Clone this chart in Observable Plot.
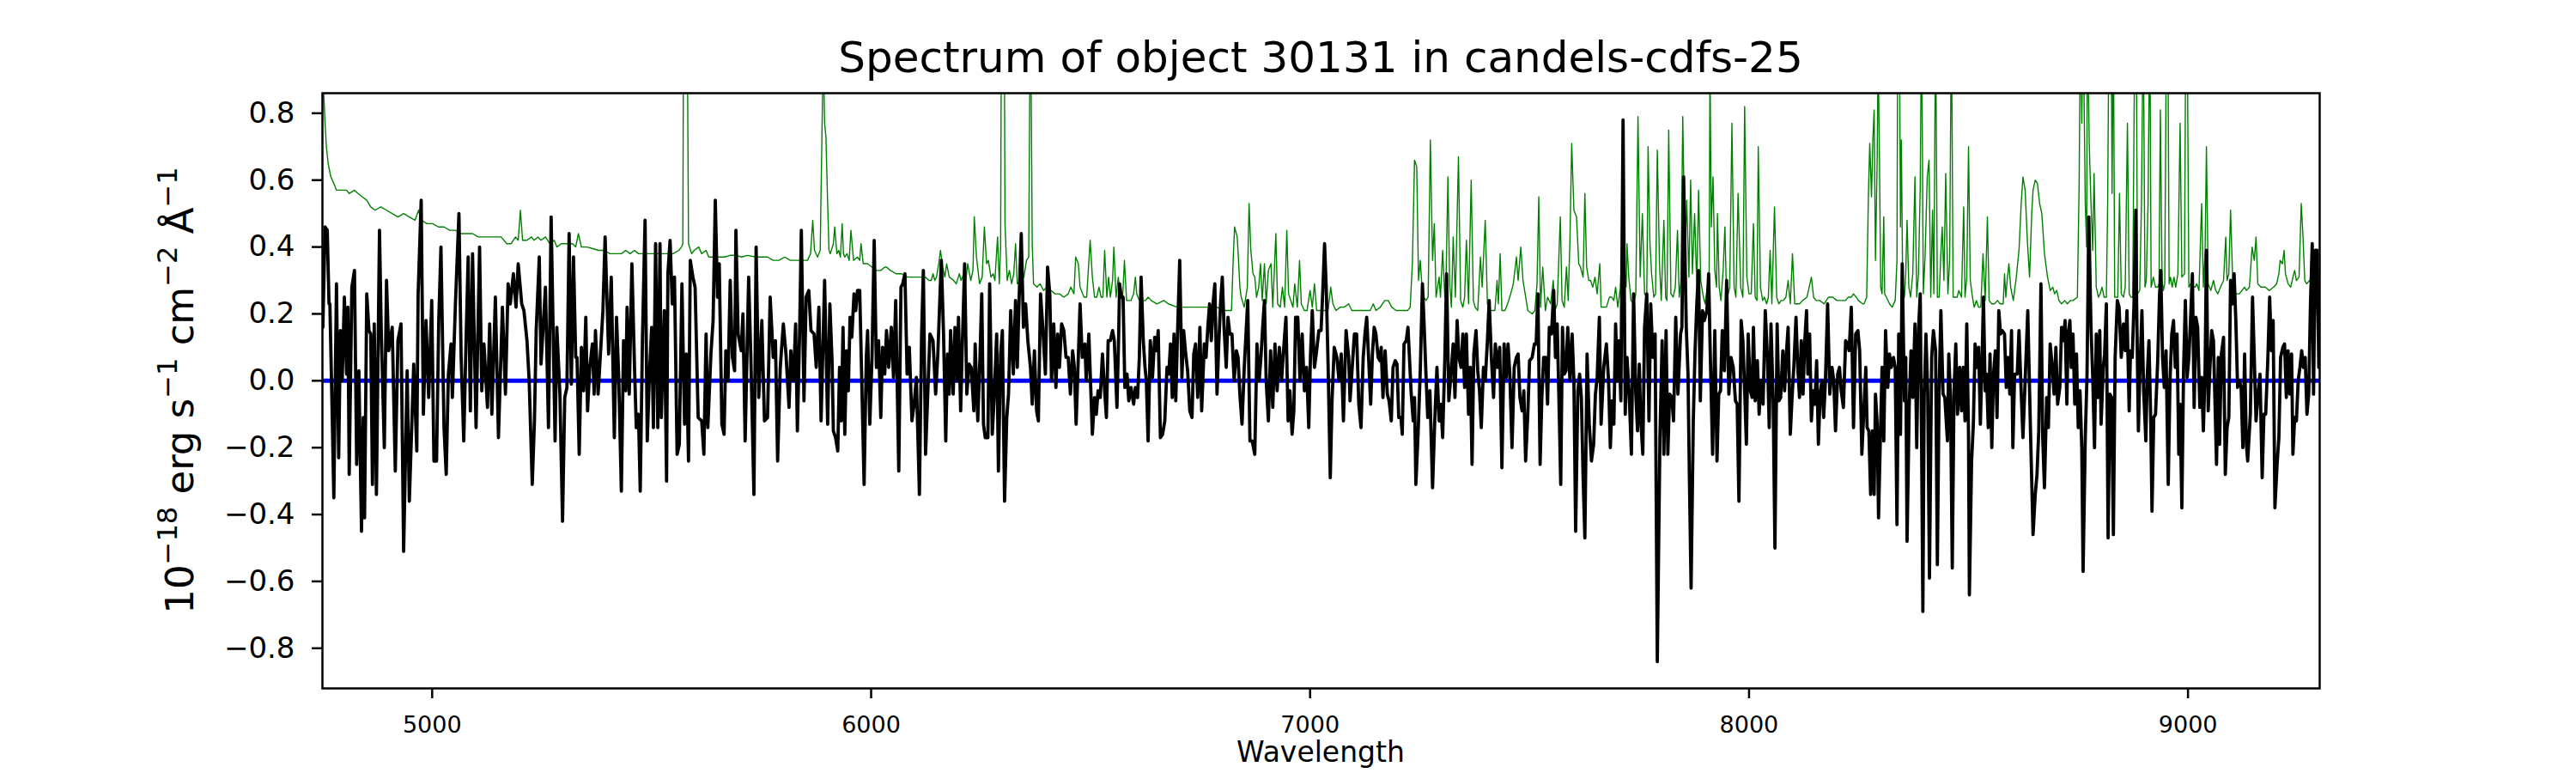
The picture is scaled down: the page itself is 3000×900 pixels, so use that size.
<!DOCTYPE html>
<html>
<head>
<meta charset="utf-8">
<script src="https://cdn.jsdelivr.net/npm/d3@7"></script>
<script src="https://cdn.jsdelivr.net/npm/@observablehq/plot@0.6"></script>
<style>
  html, body { margin: 0; padding: 0; background: #ffffff; }
  #chart { width: 3000px; height: 900px; }
</style>
</head>
<body>
<div id="chart"></div>
<script>
// ---------- DATA ----------
const titleText = "Spectrum of object 30131 in candels-cdfs-25";
const xLabelText = "Wavelength";
const xTicks = [5000, 6000, 7000, 8000, 9000];
const yTicks = [-0.8, -0.6, -0.4, -0.2, 0, 0.2, 0.4, 0.6, 0.8];
const xDomain = [4750, 9300];
const yDomain = [-0.92, 0.86];
const zeroLevel = [0];

// observed flux [wavelength, flux]
const fluxPoints = [
[4751,0.16],[4756,0.46],[4761,0.45],[4765,0.23],[4767,0.23],[4771,-0.02],[4776,-0.35],[4782,0.29],[4787,-0.23],[4791,0.15],[4795,0.00],[4800,0.25],[4805,0.02],[4808,0.22],[4811,-0.28],[4817,0.28],[4823,0.33],[4828,-0.25],[4833,0.03],[4839,-0.45],[4843,-0.11],[4846,-0.41],[4851,0.26],[4856,0.15],[4860,0.14],[4864,-0.31],[4868,0.17],[4873,-0.34],[4880,0.45],[4884,0.15],[4891,-0.20],[4896,0.30],[4901,0.09],[4909,0.16],[4916,-0.27],[4922,0.12],[4929,0.17],[4935,-0.51],[4943,0.03],[4948,-0.36],[4958,0.05],[4965,-0.21],[4968,0.26],[4975,0.54],[4980,-0.10],[4986,0.18],[4992,-0.05],[4999,0.24],[5004,-0.24],[5010,-0.24],[5015,0.18],[5020,0.40],[5027,-0.14],[5032,-0.28],[5037,0.02],[5043,0.11],[5046,-0.05],[5053,0.23],[5061,0.50],[5066,0.07],[5072,-0.18],[5077,0.11],[5082,0.37],[5087,-0.09],[5092,0.38],[5100,-0.14],[5108,0.40],[5113,-0.03],[5118,0.11],[5126,-0.08],[5131,0.17],[5136,-0.10],[5144,0.25],[5151,-0.17],[5160,0.22],[5167,-0.04],[5173,0.29],[5178,0.23],[5185,0.32],[5191,0.22],[5196,0.35],[5204,0.23],[5209,0.21],[5216,0.12],[5221,0.00],[5228,-0.31],[5233,-0.12],[5237,0.15],[5244,0.37],[5248,0.05],[5258,0.28],[5265,-0.14],[5271,0.49],[5280,-0.18],[5284,0.16],[5291,-0.04],[5297,-0.42],[5302,-0.05],[5307,-0.02],[5312,0.44],[5317,-0.01],[5322,0.37],
[5327,0.07],[5330,0.07],[5335,-0.22],[5340,0.10],[5345,-0.03],[5350,0.19],[5354,-0.09],[5359,0.04],[5365,0.11],[5369,-0.04],[5372,0.15],[5378,-0.04],[5382,0.05],[5389,0.21],[5394,0.43],[5399,0.21],[5402,0.08],[5408,0.31],[5415,-0.17],[5420,0.19],[5425,0.01],[5431,-0.33],[5436,0.12],[5441,-0.03],[5444,0.22],[5449,-0.04],[5455,0.35],[5461,0.04],[5465,-0.14],[5470,-0.10],[5474,-0.33],[5479,0.12],[5485,0.48],[5490,-0.18],[5495,0.02],[5500,0.16],[5504,-0.14],[5509,0.41],[5514,-0.14],[5519,0.41],[5522,-0.11],[5529,0.21],[5534,-0.30],[5537,0.32],[5542,0.42],[5547,0.23],[5552,0.31],[5558,-0.22],[5563,-0.19],[5569,0.29],[5575,-0.13],[5579,0.08],[5584,-0.24],[5588,0.36],[5594,0.31],[5599,0.28],[5606,-0.11],[5614,-0.12],[5619,-0.22],[5624,0.14],[5628,-0.14],[5635,0.08],[5640,0.18],[5645,0.54],[5650,0.25],[5654,0.35],[5660,-0.13],[5665,-0.16],[5669,0.09],[5674,0.00],[5679,0.30],[5684,0.07],[5689,0.03],[5692,0.45],[5697,0.14],[5704,0.09],[5708,0.20],[5713,-0.18],[5721,0.31],[5726,0.07],[5733,-0.34],[5738,0.40],[5744,-0.05],[5751,0.18],[5757,-0.12],[5764,-0.11],[5770,0.25],[5777,0.07],[5782,0.12],[5787,-0.24],[5793,0.04],[5800,0.17],[5806,0.08],[5813,-0.08],[5817,0.09],[5823,0.00],[5828,0.17],[5832,-0.15],[5837,0.14],[5841,0.45],[5847,-0.06],[5852,0.25],[5858,0.27],[5863,0.15],[5870,0.14],[5875,0.04],[5881,0.22],[5886,-0.12],[5894,0.30],[5901,-0.13],[5906,0.23],[5911,0.06],
[5914,-0.15],[5919,-0.17],[5924,-0.21],[5928,0.04],[5932,-0.12],[5936,0.16],[5940,-0.16],[5944,0.09],[5948,-0.03],[5952,0.19],[5956,0.13],[5961,0.26],[5965,0.21],[5969,0.27],[5974,0.27],[5979,-0.02],[5984,-0.31],[5989,0.07],[5992,0.15],[5997,-0.13],[6002,0.07],[6007,0.42],[6012,0.04],[6017,0.12],[6022,-0.11],[6026,0.10],[6031,0.02],[6035,0.15],[6040,0.04],[6046,0.16],[6051,0.01],[6056,0.24],[6063,-0.27],[6068,0.28],[6072,0.29],[6077,0.32],[6082,0.02],[6087,0.10],[6093,-0.12],[6098,-0.07],[6103,0.01],[6110,-0.34],[6115,0.14],[6119,0.33],[6124,-0.22],[6129,-0.04],[6134,0.14],[6141,0.12],[6147,-0.04],[6152,0.08],[6157,0.26],[6160,0.36],[6165,0.14],[6170,-0.18],[6174,0.08],[6178,-0.04],[6181,0.15],[6187,-0.04],[6191,0.16],[6196,0.00],[6199,0.19],[6204,-0.09],[6207,0.07],[6213,0.35],[6218,-0.04],[6223,0.05],[6228,0.04],[6234,-0.09],[6237,0.11],[6243,-0.12],[6248,0.07],[6252,0.26],[6256,-0.13],[6260,-0.17],[6266,-0.17],[6270,0.29],[6276,-0.16],[6280,-0.06],[6286,0.14],[6290,-0.27],[6295,0.08],[6299,0.15],[6304,-0.36],[6309,-0.11],[6313,-0.04],[6318,0.21],[6324,0.02],[6329,0.24],[6333,0.04],[6337,0.24],[6342,0.44],[6347,0.16],[6352,0.23],[6357,0.12],[6363,0.04],[6367,-0.07],[6372,0.09],[6377,-0.09],[6381,-0.12],[6386,0.26],[6391,0.16],[6397,0.02],[6402,0.34],[6407,0.26],[6411,0.00],[6416,0.17],[6421,-0.02],[6425,0.14],[6429,0.04],[6434,0.17],[6439,0.15],[6444,0.07],[6449,0.07],[6454,-0.04],[6459,0.09],[6463,0.04],[6467,-0.13],[6472,0.07],[6476,0.23],[6481,0.07],[6487,0.11],[6490,0.00],[6496,0.14],
[6504,-0.16],[6509,-0.05],[6513,-0.10],[6517,-0.03],[6522,-0.05],[6527,0.08],[6532,-0.03],[6536,-0.11],[6540,0.12],[6545,0.12],[6550,0.15],[6554,0.12],[6560,-0.08],[6564,0.14],[6566,0.29],[6570,0.25],[6574,0.25],[6578,-0.02],[6583,0.02],[6587,-0.06],[6592,-0.02],[6598,-0.07],[6602,-0.02],[6607,-0.05],[6611,0.07],[6615,0.31],[6620,0.12],[6624,0.04],[6627,0.00],[6631,-0.18],[6636,0.12],[6641,0.01],[6646,0.13],[6650,0.09],[6654,0.15],[6659,-0.17],[6664,-0.16],[6669,-0.12],[6674,0.04],[6678,0.02],[6682,0.11],[6686,-0.05],[6690,0.14],[6694,-0.06],[6698,0.14],[6703,0.36],[6708,0.01],[6712,0.15],[6716,0.09],[6721,0.03],[6726,-0.09],[6731,-0.11],[6735,0.08],[6739,0.11],[6744,-0.05],[6749,0.16],[6753,-0.09],[6759,0.11],[6763,0.07],[6767,0.16],[6771,0.23],[6775,0.12],[6779,0.23],[6783,0.29],[6788,-0.04],[6792,0.11],[6796,0.23],[6800,0.31],[6804,0.16],[6809,0.04],[6813,0.19],[6817,0.14],[6822,0.14],[6827,0.00],[6832,0.09],[6836,0.07],[6840,-0.04],[6845,-0.13],[6850,0.04],[6854,0.14],[6858,0.24],[6863,-0.18],[6868,-0.18],[6874,-0.22],[6879,0.11],[6884,0.00],[6888,0.07],[6892,0.16],[6896,0.24],[6900,0.00],[6905,-0.12],[6910,0.09],[6915,-0.08],[6920,0.11],[6925,-0.03],[6930,0.10],[6935,0.00],[6939,0.08],[6945,0.19],[6950,-0.12],[6954,-0.03],[6959,-0.16],[6963,-0.09],[6967,0.19],[6972,0.19],[6977,0.00],[6982,0.14],[6987,-0.03],[6992,0.04],[6997,-0.14],[7001,0.08],[7005,0.21],[7010,0.04],[7014,0.08],[7020,0.15],[7025,0.15],[7029,0.27],[7033,0.41],[7037,0.27],[7041,0.05],[7046,-0.29],[7050,-0.06],[7055,0.10],[7061,0.07],[7066,0.00],[7071,0.08],[7076,-0.12],[7082,0.15],
[7088,0.07],[7091,-0.06],[7096,0.04],[7101,0.14],[7106,0.14],[7111,-0.07],[7116,-0.14],[7121,0.07],[7125,0.14],[7129,0.19],[7134,0.05],[7138,-0.07],[7142,0.08],[7146,0.16],[7150,0.14],[7155,0.07],[7159,0.06],[7162,0.10],[7166,-0.05],[7171,0.09],[7176,-0.04],[7180,-0.06],[7185,-0.12],[7189,0.04],[7194,0.06],[7198,0.05],[7202,-0.11],[7207,-0.11],[7210,-0.16],[7214,0.11],[7219,0.12],[7223,0.16],[7226,0.08],[7230,-0.03],[7235,-0.12],[7238,-0.05],[7241,-0.31],[7246,-0.16],[7251,0.03],[7256,0.29],[7260,0.16],[7264,0.02],[7268,-0.11],[7273,-0.03],[7279,-0.32],[7284,-0.12],[7289,0.04],[7294,-0.12],[7298,-0.07],[7302,-0.17],[7307,0.07],[7311,0.32],[7316,-0.06],[7321,0.02],[7326,0.11],[7330,-0.05],[7335,0.18],[7339,0.07],[7344,0.04],[7348,0.14],[7352,-0.02],[7356,0.14],[7361,-0.10],[7365,0.04],[7369,-0.25],[7373,0.08],[7378,0.15],[7382,0.03],[7386,-0.03],[7390,-0.14],[7395,0.04],[7399,0.00],[7404,0.12],[7408,0.24],[7413,0.07],[7418,-0.05],[7422,0.11],[7427,0.04],[7432,0.10],[7437,-0.26],[7442,0.11],[7447,0.01],[7451,0.11],[7455,0.02],[7460,-0.20],[7465,0.04],[7470,0.07],[7474,0.08],[7478,-0.05],[7483,-0.09],[7487,-0.03],[7491,-0.24],[7496,-0.10],[7500,0.06],[7506,0.07],[7511,0.11],[7515,0.11],[7519,0.26],[7524,-0.25],[7528,-0.05],[7532,0.07],[7537,0.07],[7541,-0.07],[7545,0.16],[7550,0.14],[7555,0.27],[7559,0.07],[7563,0.17],[7568,-0.12],[7571,-0.31],[7575,0.16],[7579,0.02],[7583,0.03],[7587,0.16],[7592,0.00],[7597,0.14],[7601,0.00],[7605,-0.45],[7610,-0.03],[7614,0.02],[7618,-0.05],[7622,-0.29],[7626,-0.47],[7631,0.08],[7636,-0.13],[7641,-0.24],[7646,-0.19],[7650,-0.04],[7654,0.01],[7659,0.19],[7663,-0.13],[7669,0.04],
[7675,0.11],[7680,0.00],[7684,-0.20],[7688,-0.06],[7692,-0.13],[7696,0.17],[7700,0.00],[7703,0.12],[7708,-0.06],[7713,0.78],[7718,-0.10],[7722,0.07],[7727,-0.04],[7732,-0.22],[7737,0.26],[7742,-0.04],[7746,-0.15],[7750,0.05],[7753,-0.11],[7758,-0.22],[7762,0.16],[7767,0.26],[7772,-0.12],[7776,0.23],[7781,0.07],[7786,0.14],[7791,-0.84],[7797,-0.17],[7802,0.12],[7806,-0.22],[7811,0.15],[7815,-0.22],[7819,-0.04],[7824,-0.05],[7828,-0.12],[7833,0.19],[7838,-0.04],[7844,0.14],[7847,0.16],[7851,0.61],[7857,0.16],[7861,0.02],[7864,-0.28],[7868,-0.62],[7873,-0.12],[7877,0.09],[7881,0.23],[7885,0.33],[7889,-0.06],[7894,0.21],[7898,0.18],[7904,0.21],[7908,0.32],[7911,0.12],[7917,-0.22],[7922,0.15],[7927,-0.24],[7931,-0.04],[7935,-0.03],[7939,0.15],[7944,0.03],[7949,0.30],[7954,-0.04],[7959,0.07],[7964,0.04],[7969,-0.06],[7973,-0.07],[7977,-0.36],[7982,0.18],[7986,0.12],[7990,-0.03],[7994,-0.19],[7998,0.14],[8003,-0.03],[8007,-0.05],[8010,0.16],[8014,-0.06],[8019,0.06],[8023,-0.10],[8027,0.00],[8032,-0.07],[8037,0.21],[8042,0.07],[8046,-0.14],[8050,0.17],[8055,-0.06],[8059,-0.50],[8064,0.17],[8068,-0.06],[8072,-0.05],[8077,0.09],[8081,-0.03],[8085,0.08],[8089,0.16],[8094,-0.16],[8098,-0.05],[8102,0.04],[8107,0.19],[8111,0.04],[8115,-0.05],[8119,0.12],[8123,-0.04],[8127,0.12],[8131,0.21],[8134,0.02],[8138,0.14],[8142,-0.12],[8146,-0.03],[8150,-0.07],[8154,0.06],[8158,-0.19],[8162,-0.04],[8166,0.00],[8170,-0.11],[8174,0.00],[8179,0.23],[8184,-0.04],[8189,0.04],[8193,0.00],[8197,-0.15],[8202,0.02],[8206,0.04],[8210,-0.03],[8215,-0.08],[8220,0.12],[8224,0.11],[8228,0.09],[8233,0.22],[8238,-0.14],[8243,0.14],[8248,0.15],[8252,0.09],[8257,-0.22],
[8266,0.04],[8269,-0.14],[8273,-0.15],[8277,-0.34],[8281,-0.15],[8285,-0.34],[8288,-0.04],[8292,-0.13],[8295,-0.41],[8299,-0.18],[8303,0.04],[8307,-0.18],[8311,0.15],[8316,-0.02],[8320,0.08],[8324,0.04],[8329,0.07],[8333,0.04],[8337,-0.43],[8341,0.14],[8345,-0.16],[8349,0.35],[8354,-0.06],[8357,0.07],[8360,-0.48],[8365,-0.07],[8369,0.09],[8373,-0.05],[8378,0.17],[8382,-0.20],[8386,0.15],[8390,0.26],[8393,-0.17],[8396,-0.69],[8399,-0.05],[8403,0.14],[8407,-0.03],[8411,-0.59],[8416,0.07],[8420,0.15],[8425,0.09],[8429,-0.55],[8433,-0.03],[8437,0.21],[8442,-0.04],[8446,-0.05],[8452,-0.18],[8455,0.08],[8459,-0.05],[8463,-0.56],[8467,-0.03],[8471,0.11],[8475,-0.10],[8480,0.04],[8484,-0.09],[8488,0.04],[8492,-0.12],[8496,0.17],[8500,-0.16],[8502,-0.64],[8507,-0.24],[8511,-0.13],[8515,0.11],[8520,0.04],[8523,0.10],[8527,-0.13],[8531,0.07],[8534,0.25],[8538,-0.03],[8541,0.02],[8545,-0.14],[8549,0.08],[8553,-0.20],[8557,0.02],[8561,0.09],[8565,-0.11],[8569,0.21],[8573,0.14],[8577,0.15],[8582,0.14],[8586,-0.02],[8590,0.07],[8594,-0.04],[8598,0.15],[8601,-0.20],[8605,0.02],[8611,0.02],[8615,0.15],[8619,0.00],[8624,-0.17],[8629,0.00],[8635,0.21],[8641,-0.14],[8647,-0.46],[8652,-0.34],[8656,-0.28],[8660,-0.15],[8665,0.29],[8669,-0.17],[8673,-0.32],[8678,-0.05],[8682,-0.14],[8686,0.11],[8691,0.04],[8695,-0.04],[8699,0.10],[8703,-0.07],[8708,-0.02],[8712,0.16],[8716,0.12],[8720,0.18],[8724,-0.07],[8727,0.14],[8731,0.18],[8734,0.04],[8738,0.14],[8742,-0.07],[8746,0.08],[8750,-0.14],[8754,-0.03],[8758,-0.20],[8761,-0.57],[8766,-0.17],[8770,0.02],[8774,0.49],[8779,0.16],[8783,0.01],[8787,-0.20],[8791,0.14],[8795,-0.05],[8799,0.15],[8802,-0.13],[8807,0.04],[8810,0.08],[8814,0.23],[8818,-0.47],[8822,-0.04],[8826,-0.05],[8830,-0.46],[8834,0.07],[8839,0.24],[8843,0.22],[8848,0.07],
[8853,0.17],[8857,0.09],[8861,0.21],[8866,-0.09],[8869,0.09],[8873,0.07],[8877,0.23],[8881,0.51],[8883,0.23],[8887,-0.15],[8890,0.01],[8895,0.21],[8899,-0.03],[8904,-0.18],[8907,0.01],[8911,0.12],[8915,-0.11],[8918,-0.39],[8922,-0.11],[8926,-0.10],[8931,0.06],[8935,0.25],[8938,0.33],[8942,0.07],[8946,-0.02],[8950,0.09],[8955,-0.31],[8959,0.00],[8963,0.14],[8967,0.18],[8971,0.04],[8975,0.14],[8979,-0.22],[8982,-0.07],[8986,-0.38],[8990,0.04],[8994,0.24],[8998,0.01],[9002,0.07],[9006,0.19],[9010,0.32],[9014,-0.08],[9018,0.19],[9022,0.16],[9027,-0.08],[9031,0.01],[9035,-0.15],[9039,0.04],[9042,0.39],[9046,-0.09],[9050,0.04],[9054,0.15],[9058,0.12],[9062,-0.09],[9065,-0.25],[9069,0.07],[9072,-0.19],[9076,0.08],[9081,0.13],[9085,-0.28],[9089,-0.14],[9093,-0.11],[9097,0.30],[9101,0.23],[9105,0.32],[9109,0.18],[9113,-0.02],[9117,0.00],[9121,-0.02],[9125,-0.20],[9129,0.08],[9133,-0.19],[9136,-0.24],[9142,-0.10],[9147,0.25],[9151,0.07],[9155,-0.12],[9159,-0.05],[9164,0.02],[9169,-0.29],[9173,-0.10],[9177,-0.10],[9182,0.07],[9186,0.25],[9190,0.09],[9194,0.18],[9198,-0.38],[9203,-0.25],[9207,-0.17],[9211,0.07],[9216,0.10],[9220,0.11],[9224,-0.05],[9228,0.09],[9232,-0.04],[9236,0.08],[9239,-0.22],[9243,-0.11],[9247,-0.12],[9251,0.00],[9255,0.04],[9259,0.09],[9263,0.04],[9267,0.07],[9271,-0.10],[9275,-0.04],[9279,0.23],[9283,0.41],[9286,-0.04],[9290,0.39],[9294,0.39],[9298,0.04]
];

// uncertainty / sky [wavelength, value]
const errorPoints = [
[4751,1.1],[4753,0.86],[4756,0.77],[4759,0.70],[4763,0.65],[4769,0.61],[4776,0.59],[4782,0.57],[4792,0.57],[4805,0.57],[4811,0.56],[4823,0.57],[4831,0.56],[4841,0.55],[4851,0.54],[4860,0.52],[4870,0.51],[4883,0.52],[4896,0.51],[4909,0.50],[4922,0.49],[4935,0.50],[4948,0.49],[4961,0.48],[4969,0.51],[4975,0.48],[4988,0.47],[5001,0.47],[5014,0.46],[5027,0.46],[5040,0.45],[5053,0.45],[5066,0.44],[5079,0.44],[5092,0.44],[5105,0.43],[5118,0.43],[5131,0.43],[5144,0.43],[5157,0.43],[5170,0.41],[5180,0.41],[5190,0.43],[5196,0.42],[5201,0.51],[5206,0.42],[5216,0.42],[5226,0.43],[5232,0.42],[5241,0.43],[5248,0.42],[5258,0.43],[5268,0.41],[5278,0.42],[5284,0.40],[5294,0.41],[5307,0.41],[5320,0.41],
[5327,0.40],[5333,0.44],[5340,0.40],[5353,0.40],[5366,0.395],[5379,0.39],[5392,0.39],[5405,0.38],[5418,0.38],[5431,0.38],[5441,0.39],[5451,0.38],[5461,0.39],[5470,0.38],[5483,0.38],[5496,0.38],[5509,0.38],[5523,0.38],[5536,0.38],[5549,0.38],[5562,0.39],[5568,0.40],[5571,0.41],[5573,1.2],[5578,1.3],[5581,1.1],[5584,0.41],[5591,0.38],[5597,0.39],[5607,0.40],[5614,0.38],[5624,0.39],[5630,0.37],[5640,0.37],[5653,0.37],[5666,0.37],[5679,0.375],[5692,0.375],[5705,0.37],[5718,0.375],[5738,0.37],[5751,0.37],[5764,0.37],[5777,0.36],[5790,0.36],[5803,0.37],[5816,0.36],[5829,0.36],[5842,0.36],[5855,0.36],[5862,0.38],[5867,0.48],[5871,0.39],[5878,0.37],[5884,0.39],[5888,0.74],[5891,1.0],[5894,0.77],[5897,0.73],[5901,0.53],[5904,0.39],[5907,0.38],
[5914,0.41],[5917,0.46],[5922,0.38],[5926,0.39],[5930,0.37],[5934,0.47],[5937,0.38],[5940,0.37],[5945,0.38],[5950,0.36],[5954,0.45],[5960,0.36],[5969,0.37],[5974,0.36],[5977,0.41],[5982,0.35],[5992,0.35],[6002,0.34],[6012,0.33],[6022,0.33],[6031,0.34],[6035,0.34],[6044,0.33],[6057,0.32],[6070,0.32],[6083,0.31],[6096,0.31],[6110,0.31],[6123,0.31],[6132,0.30],[6137,0.30],[6141,0.32],[6145,0.30],[6149,0.31],[6154,0.35],[6158,0.39],[6163,0.34],[6168,0.31],[6172,0.35],[6178,0.31],[6188,0.30],[6194,0.29],[6201,0.32],[6205,0.30],[6211,0.32],[6215,0.29],[6220,0.35],[6227,0.30],[6232,0.33],[6235,0.49],[6240,0.37],[6247,0.29],[6253,0.31],[6258,0.46],[6263,0.35],[6267,0.36],[6273,0.31],[6278,0.32],[6282,0.30],[6288,0.43],[6292,0.29],[6295,0.40],[6297,1.2],[6303,1.2],[6305,0.47],[6310,0.30],[6315,0.33],[6320,0.29],[6325,0.32],[6329,0.41],[6333,0.29],[6341,0.30],[6348,0.31],[6354,0.36],[6359,0.37],[6363,1.2],[6367,0.41],[6370,0.29],[6378,0.28],[6385,0.29],[6393,0.27],[6400,0.28],[6410,0.27],[6419,0.26],[6429,0.26],[6439,0.25],[6449,0.26],[6455,0.28],[6462,0.26],[6466,0.37],[6472,0.35],[6476,0.28],[6485,0.25],[6491,0.25],[6499,0.42],
[6504,0.31],[6509,0.25],[6514,0.25],[6519,0.28],[6524,0.25],[6528,0.25],[6532,0.39],[6537,0.25],[6541,0.31],[6545,0.25],[6550,0.30],[6553,0.40],[6558,0.25],[6563,0.31],[6568,0.25],[6573,0.25],[6577,0.36],[6582,0.24],[6586,0.24],[6592,0.24],[6598,0.26],[6602,0.31],[6605,0.26],[6611,0.24],[6618,0.24],[6625,0.24],[6631,0.25],[6638,0.24],[6651,0.23],[6667,0.24],[6677,0.23],[6697,0.22],[6710,0.22],[6723,0.22],[6736,0.22],[6749,0.22],[6762,0.22],[6775,0.22],[6788,0.22],[6801,0.21],[6814,0.21],[6821,0.21],[6825,0.37],[6828,0.46],[6834,0.43],[6837,0.36],[6840,0.28],[6843,0.25],[6850,0.22],[6857,0.28],[6861,0.53],[6865,0.39],[6870,0.32],[6874,0.31],[6878,0.25],[6883,0.28],[6887,0.35],[6891,0.24],[6896,0.35],[6900,0.23],[6905,0.33],[6911,0.35],[6915,0.22],[6922,0.44],[6926,0.23],[6932,0.22],[6937,0.28],[6942,0.22],[6947,0.45],[6951,0.26],[6956,0.24],[6961,0.22],[6965,0.29],[6971,0.22],[6976,0.36],[6980,0.23],[6987,0.21],[6993,0.21],[7000,0.27],[7005,0.22],[7010,0.29],[7015,0.21],[7023,0.21],[7033,0.21],[7041,0.21],[7047,0.28],[7052,0.23],[7059,0.21],[7069,0.22],[7078,0.22],[7088,0.23],
[7095,0.21],[7101,0.21],[7114,0.21],[7124,0.21],[7131,0.21],[7137,0.21],[7144,0.23],[7150,0.21],[7160,0.22],[7170,0.24],[7178,0.24],[7186,0.22],[7196,0.21],[7206,0.21],[7215,0.21],[7222,0.21],[7228,0.22],[7233,0.35],[7238,0.66],[7243,0.64],[7247,0.30],[7251,0.36],[7255,0.28],[7259,0.25],[7264,0.24],[7269,0.25],[7274,0.72],[7279,0.36],[7283,0.47],[7287,0.25],[7294,0.31],[7297,0.25],[7302,0.39],[7307,0.25],[7310,0.32],[7314,0.61],[7318,0.29],[7322,0.22],[7326,0.43],[7331,0.25],[7338,0.67],[7343,0.24],[7348,0.22],[7352,0.25],[7356,0.42],[7361,0.23],[7367,0.60],[7372,0.24],[7376,0.22],[7382,0.21],[7388,0.37],[7392,0.28],[7399,0.48],[7404,0.23],[7409,0.21],[7421,0.21],[7426,0.30],[7429,0.23],[7433,0.38],[7437,0.21],[7444,0.21],[7450,0.23],[7457,0.26],[7463,0.29],[7470,0.37],[7474,0.30],[7480,0.40],[7485,0.30],[7490,0.26],[7496,0.21],[7506,0.20],[7512,0.21],[7517,0.29],[7521,0.55],[7525,0.22],[7530,0.34],[7536,0.21],[7541,0.25],[7548,0.23],[7554,0.30],[7558,0.21],[7563,0.23],[7570,0.49],[7574,0.24],[7579,0.22],[7584,0.34],[7588,0.24],[7592,0.42],[7596,0.71],[7601,0.51],[7607,0.49],[7612,0.35],[7616,0.34],[7622,0.31],[7626,0.56],[7630,0.34],[7635,0.30],[7639,0.30],[7644,0.28],[7649,0.31],[7654,0.26],[7660,0.35],[7663,0.22],[7669,0.22],[7675,0.22],
[7682,0.25],[7687,0.25],[7692,0.24],[7696,0.28],[7701,0.22],[7707,0.28],[7711,0.41],[7716,0.35],[7720,0.28],[7722,0.41],[7726,0.31],[7731,0.24],[7737,0.23],[7742,0.26],[7747,0.79],[7752,0.31],[7757,0.50],[7762,0.26],[7767,0.25],[7770,0.70],[7774,0.42],[7778,0.32],[7783,0.25],[7787,0.26],[7791,0.69],[7796,0.35],[7800,0.24],[7806,0.48],[7810,0.25],[7813,0.24],[7817,0.75],[7822,0.26],[7827,0.25],[7832,0.28],[7837,0.45],[7841,0.25],[7845,0.30],[7849,0.79],[7854,0.37],[7858,0.54],[7863,0.31],[7867,0.60],[7871,0.32],[7876,0.50],[7881,0.28],[7885,0.57],[7890,0.30],[7896,0.25],[7900,0.23],[7905,0.28],[7909,0.28],[7911,0.95],[7914,0.46],[7918,0.61],[7922,0.33],[7926,0.28],[7928,0.50],[7932,0.28],[7936,0.24],[7941,0.33],[7945,0.46],[7949,0.24],[7956,0.28],[7961,0.77],[7966,0.28],[7970,0.25],[7975,0.56],[7981,0.28],[7986,0.25],[7990,0.82],[7995,0.31],[8000,0.26],[8005,0.26],[8010,0.47],[8014,0.25],[8018,0.24],[8021,0.70],[8026,0.28],[8031,0.24],[8035,0.25],[8040,0.23],[8044,0.25],[8048,0.39],[8052,0.23],[8058,0.52],[8063,0.25],[8068,0.23],[8073,0.24],[8078,0.24],[8084,0.25],[8089,0.30],[8094,0.23],[8099,0.38],[8104,0.23],[8109,0.23],[8115,0.23],[8122,0.24],[8132,0.25],[8137,0.28],[8142,0.31],[8147,0.25],[8153,0.24],[8161,0.24],[8171,0.23],[8181,0.25],[8191,0.25],[8200,0.24],[8210,0.24],[8220,0.24],[8226,0.25],[8233,0.25],[8238,0.26],[8244,0.25],[8249,0.24],[8259,0.23],
[8262,0.23],[8268,0.25],[8272,0.56],[8275,0.71],[8279,0.55],[8282,0.72],[8285,0.81],[8288,0.36],[8292,0.67],[8294,1.0],[8297,0.67],[8300,0.28],[8303,0.26],[8307,0.49],[8309,0.26],[8313,0.25],[8320,0.23],[8326,0.22],[8333,0.24],[8337,0.36],[8339,1.2],[8342,1.2],[8345,0.46],[8347,0.72],[8350,0.29],[8354,0.25],[8357,0.32],[8360,0.48],[8364,0.28],[8368,0.25],[8373,0.32],[8378,0.61],[8382,0.25],[8386,0.32],[8390,0.58],[8393,1.1],[8397,0.26],[8401,0.37],[8406,0.61],[8410,0.66],[8414,0.25],[8418,0.51],[8421,0.26],[8425,1.1],[8429,0.25],[8433,0.25],[8437,0.38],[8440,0.46],[8444,0.30],[8448,0.62],[8453,0.26],[8457,0.36],[8461,1.1],[8465,0.25],[8470,0.25],[8474,0.25],[8478,0.27],[8484,0.25],[8489,0.52],[8492,0.25],[8496,0.31],[8500,0.70],[8504,0.30],[8509,0.25],[8513,0.22],[8518,0.24],[8523,0.22],[8528,0.22],[8533,0.38],[8538,0.24],[8543,0.49],[8547,0.24],[8553,0.23],[8559,0.23],[8566,0.24],[8572,0.23],[8579,0.23],[8582,0.32],[8585,0.25],[8588,0.30],[8592,0.35],[8596,0.28],[8602,0.24],[8608,0.30],[8615,0.39],[8620,0.53],[8624,0.61],[8629,0.57],[8634,0.42],[8639,0.31],[8644,0.50],[8647,0.57],[8652,0.60],[8657,0.59],[8662,0.53],[8667,0.50],[8670,0.44],[8673,0.38],[8680,0.31],[8686,0.27],[8692,0.28],[8696,0.26],[8701,0.27],[8706,0.24],[8712,0.23],[8719,0.24],[8725,0.23],[8732,0.24],[8738,0.24],[8748,0.25],[8752,0.59],[8755,1.1],[8758,0.77],[8761,1.1],[8766,0.53],[8769,0.40],[8771,1.1],[8775,0.71],[8779,0.53],[8783,0.39],[8786,0.62],[8791,0.28],[8796,0.25],[8800,0.26],[8804,0.28],[8809,0.25],[8814,0.25],[8817,0.53],[8820,1.1],[8825,1.1],[8827,0.56],[8830,1.1],
[8833,0.25],[8840,0.25],[8844,0.56],[8848,0.26],[8853,0.25],[8857,0.28],[8862,0.77],[8866,0.26],[8870,0.25],[8874,0.25],[8879,1.1],[8882,1.1],[8885,0.26],[8890,0.27],[8894,0.53],[8898,1.1],[8902,0.28],[8905,0.30],[8909,0.53],[8913,1.1],[8916,0.28],[8921,0.31],[8926,0.28],[8931,0.28],[8934,0.29],[8937,0.81],[8941,0.30],[8944,0.27],[8947,0.29],[8951,1.1],[8954,1.1],[8957,0.29],[8960,0.31],[8964,0.28],[8968,0.31],[8972,0.28],[8977,0.32],[8982,0.77],[8986,0.31],[8992,0.32],[8995,1.1],[8998,1.1],[9002,0.28],[9006,0.29],[9011,0.28],[9016,0.28],[9020,0.29],[9025,0.27],[9031,0.53],[9035,0.28],[9039,0.39],[9042,0.70],[9046,0.29],[9052,0.27],[9058,0.30],[9063,0.27],[9068,0.26],[9074,0.28],[9081,0.30],[9086,0.43],[9089,0.30],[9093,0.32],[9097,0.51],[9102,0.29],[9109,0.26],[9117,0.26],[9123,0.27],[9129,0.28],[9133,0.27],[9140,0.28],[9146,0.40],[9151,0.36],[9155,0.43],[9159,0.29],[9166,0.28],[9176,0.28],[9185,0.27],[9195,0.28],[9202,0.29],[9207,0.32],[9210,0.36],[9215,0.35],[9219,0.39],[9222,0.32],[9228,0.29],[9234,0.28],[9239,0.31],[9243,0.33],[9247,0.30],[9253,0.31],[9258,0.53],[9262,0.43],[9266,0.30],[9270,0.29],[9277,0.30],[9283,0.30],[9300,0.30]
];

// ---------- CHART ----------
const W = 3000, H = 900;
const M = {top: 108, right: 299, bottom: 99, left: 375};
const FONT = "DejaVu Sans";

const chart = Plot.plot({
  width: W,
  height: H,
  marginTop: M.top,
  marginRight: M.right,
  marginBottom: M.bottom,
  marginLeft: M.left,
  style: {fontFamily: FONT, background: "#ffffff", color: "#000000"},
  x: {domain: xDomain},
  y: {domain: yDomain},
  marks: [
    Plot.line(errorPoints, {x: d => d[0], y: d => d[1], stroke: "#008000", strokeWidth: 1.4, clip: true}),
    Plot.ruleY(zeroLevel, {stroke: "#0000ff", strokeWidth: 5, clip: true}),
    Plot.line(fluxPoints, {x: d => d[0], y: d => d[1], stroke: "#000000", strokeWidth: 3.8, strokeLinejoin: "round", clip: true}),
    Plot.axisY({ticks: yTicks, tickSize: 12, tickPadding: 20, tickFormat: d3.format(".1f"), fontSize: 34, strokeWidth: 2.5, label: null}),
    Plot.axisX({ticks: xTicks, tickSize: 12, tickPadding: 20, tickFormat: d => String(d), fontSize: 27, strokeWidth: 2.5, label: null}),
    Plot.frame({stroke: "#000000", strokeWidth: 2.5})
  ]
});

document.getElementById("chart").appendChild(chart);

// ---------- TEXT (title, axis labels) ----------
const svg = d3.select(chart);
const cx = M.left + (W - M.left - M.right) / 2;
const cy = M.top + (H - M.top - M.bottom) / 2;

svg.append("text")
  .attr("x", cx).attr("y", 84)
  .attr("text-anchor", "middle")
  .attr("font-family", FONT).attr("font-size", 50).attr("fill", "#000")
  .text(titleText);

svg.append("text")
  .attr("x", cx).attr("y", 887)
  .attr("text-anchor", "middle")
  .attr("font-family", FONT).attr("font-size", 33).attr("fill", "#000")
  .text(xLabelText);

const yLabelParts = [
  ["10", false], ["\u221218", true], [" erg s", false], ["\u22121", true],
  [" cm", false], ["\u22122", true], [" \u00C5", false], ["\u22121", true]
];
const yl = svg.append("text")
  .attr("transform", `translate(225,${cy}) rotate(-90)`)
  .attr("text-anchor", "middle")
  .attr("font-family", FONT).attr("font-size", 45).attr("fill", "#000");
let raised = false;
for (const [str, sup] of yLabelParts) {
  const t = yl.append("tspan").text(str);
  if (sup && !raised) { t.attr("font-size", 32).attr("dy", -19); raised = true; }
  else if (!sup && raised) { t.attr("dy", 19); raised = false; }
  else if (sup) { t.attr("font-size", 32); }
}
</script>
</body>
</html>
